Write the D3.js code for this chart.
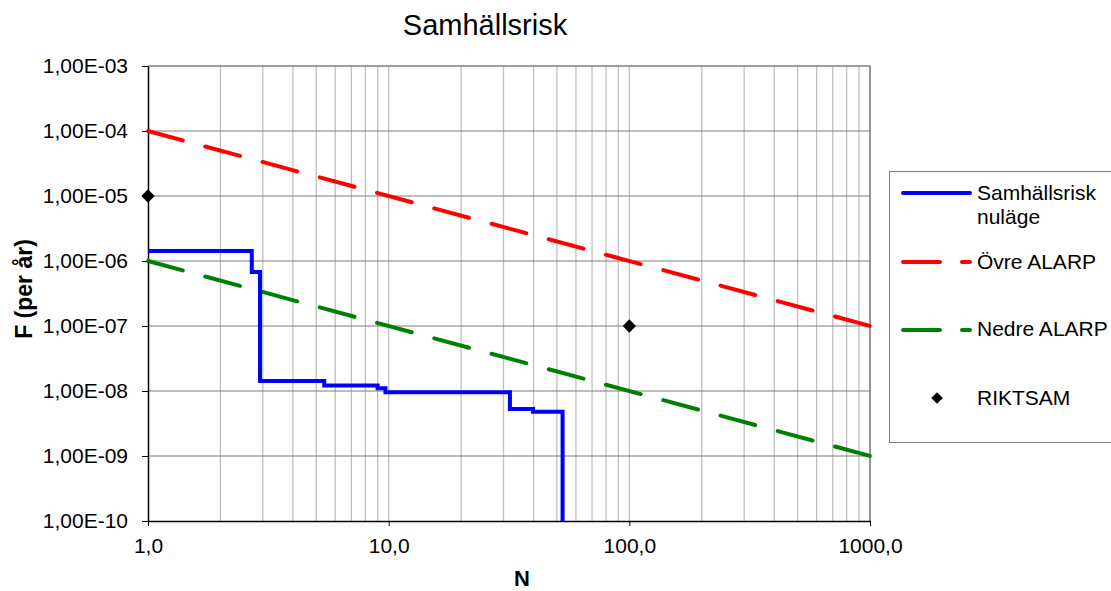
<!DOCTYPE html>
<html>
<head>
<meta charset="utf-8">
<script src="https://cdn.jsdelivr.net/npm/d3@7"></script>
<style>
  body { margin: 0; background: #fff; }
  svg { display: block; font-family: "Liberation Sans", Arial, sans-serif; }
</style>
</head>
<body>
<div id="chart"></div>
<script>
// data
const riskN = [1, 2.7, 2.92, 5.4, 9.0, 9.7, 31.9, 39.8, 52.8];
const riskF = [1.43e-6, 6.8e-7, 1.43e-8, 1.21e-8, 1.1e-8, 9.6e-9, 5.3e-9, 4.8e-9, 1e-10];
const alarpN = [1, 1000];
const upperF = [1e-4, 1e-7];
const lowerF = [1e-6, 1e-9];
const riktsamN = [1, 100];
const riktsamF = [1e-5, 1e-7];
const xTicks = [1, 10, 100, 1000];
const yTicks = [1e-3, 1e-4, 1e-5, 1e-6, 1e-7, 1e-8, 1e-9, 1e-10];

const W = 1111, H = 591;
const margin = {top: 66, left: 148, right: 1111 - 870, bottom: 591 - 521};
const pw = W - margin.left - margin.right;
const ph = H - margin.top - margin.bottom;

const svg = d3.select("#chart").append("svg")
  .attr("width", W)
  .attr("height", H);

const x = d3.scaleLog().domain([1, 1000]).range([margin.left, margin.left + pw]);
const y = d3.scaleLog().domain([1e-10, 1e-3]).range([margin.top + ph, margin.top]);

// minor vertical grid
let minorX = [];
[1, 10, 100].forEach(d => { for (let k = 2; k <= 10; k++) minorX.push(d * k); });
svg.append("g").selectAll("line").data(minorX).enter().append("line")
  .attr("x1", d => x(d)).attr("x2", d => x(d))
  .attr("y1", margin.top).attr("y2", margin.top + ph)
  .attr("stroke", "#c0c0c0").attr("stroke-width", 1.3);

// horizontal grid at decades
svg.append("g").selectAll("line").data(yTicks.slice(1, -1)).enter().append("line")
  .attr("x1", margin.left).attr("x2", margin.left + pw)
  .attr("y1", d => y(d)).attr("y2", d => y(d))
  .attr("stroke", "#7a7a7a").attr("stroke-width", 1);

// plot frame (top, right)
svg.append("path")
  .attr("d", `M${margin.left},${margin.top}H${margin.left + pw}V${margin.top + ph}`)
  .attr("fill", "none").attr("stroke", "#808080").attr("stroke-width", 1.5);

// axes
const xAxis = svg.append("g")
  .attr("transform", `translate(0,${margin.top + ph})`)
  .call(d3.axisBottom(x).tickValues(xTicks).tickSize(5).tickSizeOuter(0)
    .tickFormat(d => d3.format(".1f")(d).replace(".", ",")));
const yAxis = svg.append("g")
  .attr("transform", `translate(${margin.left},0)`)
  .call(d3.axisLeft(y).tickValues(yTicks).tickSize(6).tickSizeOuter(0)
    .tickFormat(d => {
      const e = Math.round(Math.log10(d));
      return "1,00E-" + String(-e).padStart(2, "0");
    }));
[xAxis, yAxis].forEach(a => {
  a.select(".domain").attr("stroke", "#000").attr("stroke-width", 1.5);
  a.selectAll(".tick line").attr("stroke", "#000");
  a.selectAll(".tick text").attr("font-size", 21).attr("fill", "#000")
    .attr("font-family", "Liberation Sans, Arial, sans-serif");
});
xAxis.selectAll(".tick text").attr("y", 32).attr("dy", 0);
yAxis.selectAll(".tick text").attr("x", -20).attr("dy", "0.33em");

// lines
const line = d3.line().x(d => x(d[0])).y(d => y(d[1]));

svg.append("path")
  .datum(alarpN.map((n, i) => [n, upperF[i]]))
  .attr("d", line)
  .attr("fill", "none").attr("stroke", "#ff0000").attr("stroke-width", 4)
  .attr("stroke-dasharray", "36,23.3").attr("stroke-linecap", "round");

svg.append("path")
  .datum(alarpN.map((n, i) => [n, lowerF[i]]))
  .attr("d", line)
  .attr("fill", "none").attr("stroke", "#008000").attr("stroke-width", 4)
  .attr("stroke-dasharray", "36,23.3").attr("stroke-linecap", "round");

svg.append("path")
  .datum(riskN.map((n, i) => [n, riskF[i]]))
  .attr("d", line.curve(d3.curveStepAfter))
  .attr("fill", "none").attr("stroke", "#0000ff").attr("stroke-width", 4);

// RIKTSAM points
const diamond = d3.symbol().type(d3.symbolDiamond2).size(112);
svg.append("g").selectAll("path").data(riktsamN).enter().append("path")
  .attr("d", diamond)
  .attr("transform", (d, i) => `translate(${x(d)},${y(riktsamF[i])})`)
  .attr("fill", "#000");

// title and axis labels
svg.append("text")
  .attr("x", 485).attr("y", 35)
  .attr("text-anchor", "middle").attr("font-size", 29)
  .text("Samhällsrisk");

svg.append("text")
  .attr("x", 522).attr("y", 586)
  .attr("text-anchor", "middle").attr("font-size", 22).attr("font-weight", "bold")
  .text("N");

svg.append("text")
  .attr("transform", "translate(32,289) rotate(-90)")
  .attr("text-anchor", "middle").attr("font-size", 23).attr("font-weight", "bold")
  .text("F (per år)");

// legend
const legend = svg.append("g");
legend.append("rect")
  .attr("x", 889.5).attr("y", 171.5).attr("width", 240).attr("height", 271)
  .attr("fill", "#fff").attr("stroke", "#808080").attr("stroke-width", 1);

const legItems = [
  {name: ["Samhällsrisk", "nuläge"], color: "#0000ff", dash: null, y: 193, ty: 200},
  {name: ["Övre ALARP"], color: "#ff0000", dash: "37,22", y: 262, ty: 269},
  {name: ["Nedre ALARP"], color: "#008000", dash: "37,22", y: 330, ty: 336}
];
legItems.forEach(it => {
  legend.append("line")
    .attr("x1", 903).attr("x2", 970).attr("y1", it.y).attr("y2", it.y)
    .attr("stroke", it.color).attr("stroke-width", 4).attr("stroke-linecap", "round")
    .attr("stroke-dasharray", it.dash);
  it.name.forEach((t, j) => {
    legend.append("text")
      .attr("x", 977).attr("y", it.ty + j * 24)
      .attr("font-size", 21).text(t);
  });
});
legend.append("path")
  .attr("d", d3.symbol().type(d3.symbolDiamond2).size(85))
  .attr("transform", "translate(937,398)").attr("fill", "#000");
legend.append("text")
  .attr("x", 977).attr("y", 405).attr("font-size", 21).text("RIKTSAM");
</script>
</body>
</html>
